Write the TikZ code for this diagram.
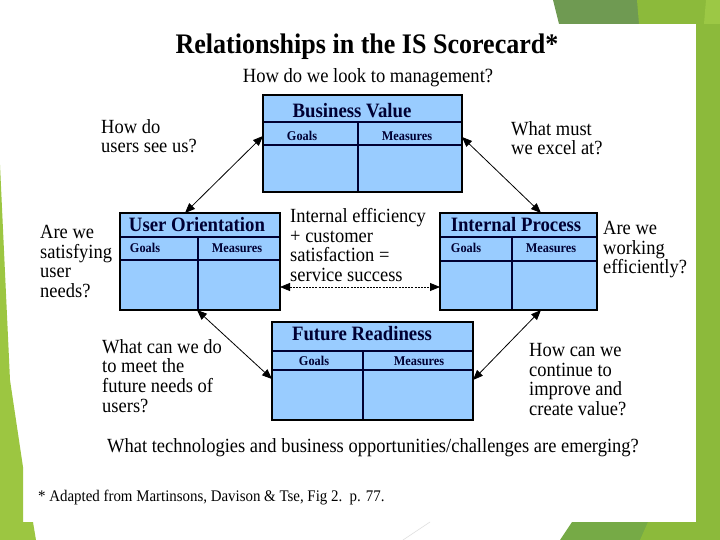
\documentclass[tikz,border=0pt]{standalone}
\usepackage{fontspec}
\setmainfont{Liberation Serif}[FakeStretch=0.92]
\usetikzlibrary{arrows.meta,calc}
\definecolor{boxblue}{HTML}{99CCFF}
\definecolor{navy}{HTML}{000033}
\definecolor{gdark}{HTML}{6F9A52}
\definecolor{glight}{HTML}{8CBA3B}
\definecolor{glighter}{HTML}{9CC845}
\definecolor{gleft}{HTML}{9CC641}
\definecolor{gbot}{HTML}{76AA46}
\begin{document}
\begin{tikzpicture}[x=1pt,y=-1pt,
  boxfill/.style={fill=boxblue,draw=none,inner sep=0pt,outer sep=0pt,anchor=north west},
  boxborder/.style={draw=black,line width=2.8pt},
  rule/.style={draw=navy,line width=1.2pt},
  hdr/.style={font=\fontsize{20.4}{21}\selectfont\bfseries,text=navy,inner sep=0pt},
  lbl/.style={font=\fontsize{13.4}{14}\selectfont\bfseries,text=navy,inner sep=0pt},
  q/.style={font=\fontsize{20.1}{19.7}\selectfont,align=left,anchor=north west,inner sep=0pt},
  biarrow/.style={line width=0.8pt,{Triangle[length=10pt,width=8pt]}-{Triangle[length=10pt,width=8pt]}},
  dasharrow/.style={biarrow,dash pattern=on 2pt off 1.2pt},
]
\useasboundingbox (0,0) rectangle (720,540);
\fill[white] (0,0) rectangle (720,540);
% green decorations
\fill[gdark] (553,0) -- (720,0) -- (720,24) -- (559,24) -- cycle;
\fill[glight] (637,0) -- (720,0) -- (720,24) -- (639,24) -- cycle;
\fill[glighter] (706,0) -- (720,0) -- (720,24) -- (704,24) -- cycle;
\fill[glight] (696,24) rectangle (720,522);
\fill[gbot] (560,540) -- (572,522) -- (720,522) -- (720,540) -- cycle;
\fill[glight] (640,540) -- (648,522) -- (720,522) -- (720,540) -- cycle;
\fill[gleft] (0,165) -- (10,380) -- (23,467) -- (23,522) -- (33,522) -- (36,540) -- (0,540) -- cycle;
\draw[black!12,line width=0.6pt] (403,540) -- (430,522);

% titles
\node[font=\fontsize{28.3}{30}\selectfont\bfseries,inner sep=0pt] (title) at (367,47) {Relationships in the IS Scorecard*};
\node[font=\fontsize{20.2}{21}\selectfont,inner sep=0pt] (sub) at (368,78) {How do we look to management?};

% Business Value
\node[boxfill,minimum width=199pt,minimum height=97pt] (bv) at (263,95) {};
\draw[rule] (263,122) -- (462,122) (263,145) -- (462,145) (358,122) -- (358,192);
\draw[boxborder] (bv.north west) rectangle (bv.south east);
\node[hdr] (bvt) at (352,110.5) {Business Value};
\node[lbl] (bvg) at (302,136) {Goals};
\node[lbl] (bvm) at (407,136) {Measures};

% User Orientation
\node[boxfill,minimum width=160pt,minimum height=97pt] (uo) at (120,213) {};
\draw[rule] (120,237) -- (280,237) (120,260) -- (280,260) (198,237) -- (198,310);
\draw[boxborder] (uo.north west) rectangle (uo.south east);
\node[hdr] (uot) at (197,225) {User Orientation};
\node[lbl] (uog) at (145,248) {Goals};
\node[lbl] (uom) at (237,248) {Measures};

% Internal Process
\node[boxfill,minimum width=157pt,minimum height=97pt] (ip) at (440,213) {};
\draw[rule] (440,237) -- (597,237) (440,261) -- (597,261) (512,237) -- (512,310);
\draw[boxborder] (ip.north west) rectangle (ip.south east);
\node[hdr] (ipt) at (516,225) {Internal Process};
\node[lbl] (ipg) at (466,248) {Goals};
\node[lbl] (ipm) at (551,248) {Measures};

% Future Readiness
\node[boxfill,minimum width=201pt,minimum height=98pt] (fr) at (272,322) {};
\draw[rule] (272,351) -- (473,351) (272,370) -- (473,370) (363,351) -- (363,420);
\draw[boxborder] (fr.north west) rectangle (fr.south east);
\node[hdr] (frt) at (362,334) {Future Readiness};
\node[lbl] (frg) at (314,361) {Goals};
\node[lbl] (frm) at (419,361) {Measures};

% questions
\node[q] (q1) at (101,119) {How do\\users see us?};
\node[q] (q2) at (511,121) {What must\\we excel at?};
\node[q] (q3) at (40,225) {Are we\\satisfying\\user\\needs?};
\node[q] (q4) at (290,208) {Internal efficiency\\+ customer\\satisfaction =\\service success};
\node[q] (q5) at (603,221) {Are we\\working\\efficiently?};
\node[q] (q6) at (102,339) {What can we do\\to meet the\\future needs of\\users?};
\node[q] (q7) at (529,343) {How can we\\continue to\\improve and\\create value?};
\node[font=\fontsize{20.1}{21}\selectfont,inner sep=0pt] (q8) at (373,448) {What technologies and business opportunities/challenges are emerging?};
\node[font=\fontsize{16.2}{17}\selectfont,inner sep=0pt,anchor=west] (foot) at (38,498) {* Adapted from Martinsons, Davison \& Tse, Fig 2.\ \ p. 77.};

% connectors
\draw[biarrow] ($(uo.north west)+(65,0)$) -- ($(bv.north west)+(0,41)$);
\draw[biarrow] ($(bv.north east)+(0,42)$) -- ($(ip.north west)+(101,0)$);
\draw[biarrow] ($(uo.south west)+(77,0)$) -- ($(fr.north west)+(0,57)$);
\draw[biarrow] ($(ip.south west)+(101,0)$) -- ($(fr.north east)+(0,58)$);
\draw[dasharrow] ($(uo.south east)+(0,-23)$) -- ($(ip.south west)+(0,-23)$);
\end{tikzpicture}
\end{document}
